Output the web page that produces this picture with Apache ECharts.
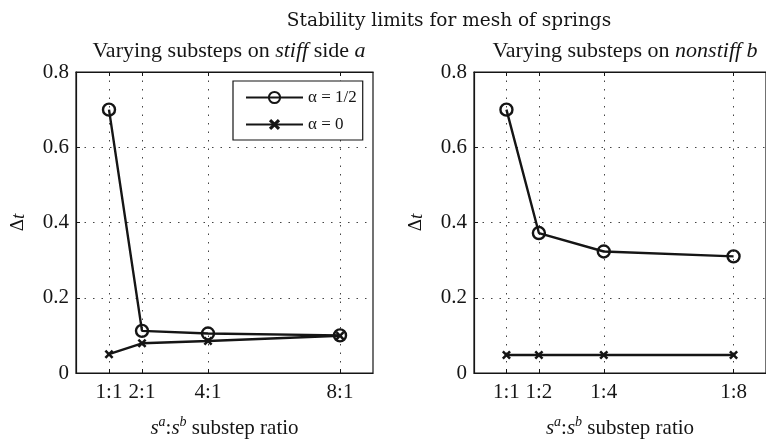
<!DOCTYPE html>
<html>
<head>
<meta charset="utf-8">
<script src="https://cdn.jsdelivr.net/npm/echarts@6/dist/echarts.min.js"></script>
<style>
html, body { margin: 0; padding: 0; background: #fff; }
#chart { width: 766px; height: 444px; }
</style>
</head>
<body>
<div id="chart"></div>
<script>
// substep ratio positions (drawn on a linear 0..9 axis)
const ratioPos = [1, 2, 4, 8];
const leftLabels = ['1:1', '2:1', '4:1', '8:1'];
const rightLabels = ['1:1', '1:2', '1:4', '1:8'];

// stable dt, varying substeps on stiff side a
const leftHalf = [0.70, 0.112, 0.105, 0.100];
const leftZero = [0.050, 0.079, 0.085, 0.099];

// stable dt, varying substeps on nonstiff side b
const rightHalf = [0.70, 0.372, 0.323, 0.310];
const rightZero = [0.048, 0.048, 0.048, 0.048];

const yTicks = [0, 0.2, 0.4, 0.6, 0.8];

const serif = 'Liberation Serif';
const ink = '#151515';
const crossPath = 'path://M0,2L2,0L5,3L8,0L10,2L7,5L10,8L8,10L5,7L2,10L0,8L3,5Z';

const chart = echarts.init(document.getElementById('chart'));

function pairs(vals) {
    return ratioPos.map((x, i) => [x, vals[i]]);
}

function xAxisFor(gridIndex, labels) {
    return {
        type: 'value',
        gridIndex: gridIndex,
        min: 0,
        max: 9,
        axisLine: { show: true, lineStyle: { color: ink, width: 1.2 } },
        axisTick: { show: true, inside: true, length: 4, customValues: ratioPos, lineStyle: { color: ink } },
        axisLabel: {
            customValues: ratioPos,
            margin: 9,
            fontFamily: serif,
            fontSize: 21,
            color: ink,
            formatter: v => labels[ratioPos.indexOf(v)] || ''
        },
        splitLine: { show: true, lineStyle: { type: [1.5, 7], color: '#444', width: 1 } },
        name: '{i|s}{sup|a}{n|:}{i|s}{sup|b}{n| substep ratio}',
        nameLocation: 'middle',
        nameGap: 42,
        nameTextStyle: {
            rich: {
                i: { fontFamily: serif, fontSize: 21, fontStyle: 'italic', color: ink, lineHeight: 24, verticalAlign: 'bottom' },
                n: { fontFamily: serif, fontSize: 21, color: ink, lineHeight: 24, verticalAlign: 'bottom' },
                sup: { fontFamily: serif, fontSize: 14, fontStyle: 'italic', color: ink, lineHeight: 24, verticalAlign: 'top', padding: [0, 0, 10, 0] }
            }
        }
    };
}

function topAxisFor(gridIndex) {
    return {
        type: 'value',
        gridIndex: gridIndex,
        position: 'top',
        min: 0,
        max: 9,
        axisLine: { show: true, lineStyle: { color: ink, width: 1.2 } },
        axisTick: { show: true, inside: true, length: 4, customValues: ratioPos, lineStyle: { color: ink } },
        axisLabel: { show: false },
        splitLine: { show: false }
    };
}

function yAxisFor(gridIndex) {
    return {
        type: 'value',
        gridIndex: gridIndex,
        min: 0,
        max: 0.8,
        interval: 0.2,
        axisLine: { show: true, lineStyle: { color: ink, width: 1.2 } },
        axisTick: { show: true, inside: true, length: 4, lineStyle: { color: ink } },
        axisLabel: {
            margin: 7,
            fontFamily: serif,
            fontSize: 21,
            color: ink,
            formatter: v => yTicks.indexOf(+v.toFixed(1)) >= 0 ? String(+v.toFixed(1)) : ''
        },
        splitLine: { show: true, lineStyle: { type: [1.5, 7], color: '#444', width: 1 } },
        name: '{d|Δ}{i|t}',
        nameLocation: 'middle',
        nameRotate: 90,
        nameGap: 48,
        nameTextStyle: {
            rich: {
                d: { fontFamily: serif, fontSize: 19, color: ink },
                i: { fontFamily: serif, fontSize: 19, fontStyle: 'italic', color: ink }
            }
        }
    };
}

function halfSeries(axisIndex, vals) {
    return {
        name: 'α = 1/2',
        type: 'line',
        xAxisIndex: axisIndex,
        yAxisIndex: axisIndex,
        data: pairs(vals),
        symbol: 'circle',
        symbolSize: 12,
        lineStyle: { color: ink, width: 2.4 },
        itemStyle: { color: 'rgba(255,255,255,0)', borderColor: ink, borderWidth: 2.4 },
        animation: false,
        z: 3
    };
}

function zeroSeries(axisIndex, vals) {
    return {
        name: 'α = 0',
        type: 'line',
        xAxisIndex: axisIndex,
        yAxisIndex: axisIndex,
        data: pairs(vals),
        symbol: crossPath,
        symbolSize: 9,
        lineStyle: { color: ink, width: 2.4 },
        itemStyle: { color: ink },
        animation: false,
        z: 2
    };
}

const subRich = {
    n: { fontFamily: serif, fontSize: 22, fontWeight: 'normal', color: ink },
    i: { fontFamily: serif, fontSize: 22, fontWeight: 'normal', fontStyle: 'italic', color: ink }
};

const option = {
    backgroundColor: '#fff',
    animation: false,
    title: [
        {
            text: 'Stability limits for mesh of springs',
            left: 444,
            top: 7,
            textAlign: 'center',
            textStyle: { fontFamily: 'DejaVu Serif', fontSize: 18.5, fontWeight: 'normal', color: ink }
        },
        {
            text: '{n|Varying substeps on }{i|stiff}{n| side }{i|a}',
            left: 224,
            top: 35,
            textAlign: 'center',
            textStyle: { fontWeight: 'normal', rich: subRich }
        },
        {
            text: '{n|Varying substeps on }{i|nonstiff b}',
            left: 620,
            top: 35,
            textAlign: 'center',
            textStyle: { fontWeight: 'normal', rich: subRich }
        }
    ],
    legend: {
        orient: 'vertical',
        left: 233,
        top: 81,
        padding: [8, 6, 7, 12],
        itemWidth: 57,
        itemHeight: 14,
        itemGap: 10,
        backgroundColor: '#fff',
        borderColor: ink,
        borderWidth: 1.2,
        borderRadius: 0,
        data: ['α = 1/2', 'α = 0'],
        textStyle: { fontFamily: serif, fontSize: 17, color: ink }
    },
    grid: [
        { left: 76, top: 72, width: 297, height: 310, show: true, borderColor: ink, borderWidth: 1.2, backgroundColor: 'transparent' },
        { left: 474, top: 72, width: 297, height: 310, show: true, borderColor: ink, borderWidth: 1.2, backgroundColor: 'transparent' }
    ],
    xAxis: [
        xAxisFor(0, leftLabels),
        xAxisFor(1, rightLabels),
        topAxisFor(0),
        topAxisFor(1)
    ],
    yAxis: [
        yAxisFor(0),
        yAxisFor(1)
    ],
    series: [
        halfSeries(0, leftHalf),
        zeroSeries(0, leftZero),
        halfSeries(1, rightHalf),
        zeroSeries(1, rightZero)
    ]
};

chart.setOption(option);
</script>
</body>
</html>
